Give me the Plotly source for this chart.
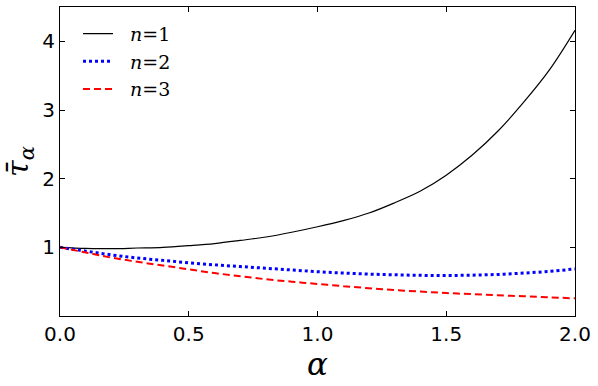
import plotly.graph_objects as go

# alpha grid and curves
alpha = [0.0, 0.1, 0.2, 0.3, 0.4, 0.5, 0.6, 0.7, 0.8, 0.9, 1.0,
         1.1, 1.2, 1.3, 1.4, 1.5, 1.6, 1.7, 1.8, 1.9, 2.0]
tau_n1 = [1.00, 0.985, 0.98, 0.99, 1.00, 1.025, 1.055, 1.10, 1.15, 1.22, 1.30,
          1.39, 1.50, 1.65, 1.82, 2.05, 2.34, 2.69, 3.11, 3.58, 4.16]
tau_n2 = [1.00, 0.945, 0.89, 0.845, 0.81, 0.775, 0.745, 0.72, 0.695, 0.67, 0.645,
          0.625, 0.61, 0.60, 0.592, 0.59, 0.595, 0.605, 0.625, 0.65, 0.685]
tau_n3 = [1.00, 0.925, 0.85, 0.79, 0.735, 0.68, 0.625, 0.58, 0.535, 0.50, 0.466,
          0.435, 0.405, 0.378, 0.355, 0.335, 0.318, 0.302, 0.288, 0.272, 0.257]
x_ticks = [0.0, 0.5, 1.0, 1.5, 2.0]
y_ticks = [1, 2, 3, 4]

serif = 'DejaVu Serif'
sans = 'DejaVu Sans'
pad = '\u00a0' * 2  # push legend text a bit further from the line sample

fig = go.Figure()
fig.add_trace(go.Scatter(x=alpha, y=tau_n1, mode='lines', name=pad + '<i>n</i>=1',
                         line=dict(color='black', width=1.2, shape='spline')))
fig.add_trace(go.Scatter(x=alpha, y=tau_n2, mode='lines', name=pad + '<i>n</i>=2',
                         line=dict(color='blue', width=3, dash='dot', shape='spline')))
fig.add_trace(go.Scatter(x=alpha, y=tau_n3, mode='lines', name=pad + '<i>n</i>=3',
                         line=dict(color='red', width=2, dash='7px,4px', shape='spline')))

axis_style = dict(showline=True, linecolor='black', linewidth=1, mirror='ticks',
                  ticks='inside', ticklen=5, tickcolor='black', showgrid=False,
                  zeroline=False, tickfont=dict(family=sans, size=20, color='black'))

fig.update_layout(
    width=598, height=386,
    margin=dict(l=60, r=23, t=7, b=70),
    template='plotly_white',
    plot_bgcolor='white', paper_bgcolor='white',
    xaxis=dict(range=[0, 2], tickvals=x_ticks, ticktext=['%.1f' % v for v in x_ticks],
               title=dict(text='<i>α</i>', font=dict(family=serif, size=31, color='black'),
                          standoff=2),
               **axis_style),
    yaxis=dict(range=[0, 4.5], tickvals=y_ticks,
               title=dict(text='<i>τ̄</i><sub><i>α</i></sub>',
                          font=dict(family=serif, size=30, color='black'), standoff=6),
               **axis_style),
    legend=dict(x=0.035, y=0.975, xanchor='left', yanchor='top', bgcolor='rgba(0,0,0,0)',
                font=dict(family=serif, size=19, color='black')),
    showlegend=True,
)

# drop the page's default body margin so the figure sits at the window's corner
fig.write_html("out.html", config={'displayModeBar': False},
               post_script="document.body.style.margin='0px';")
